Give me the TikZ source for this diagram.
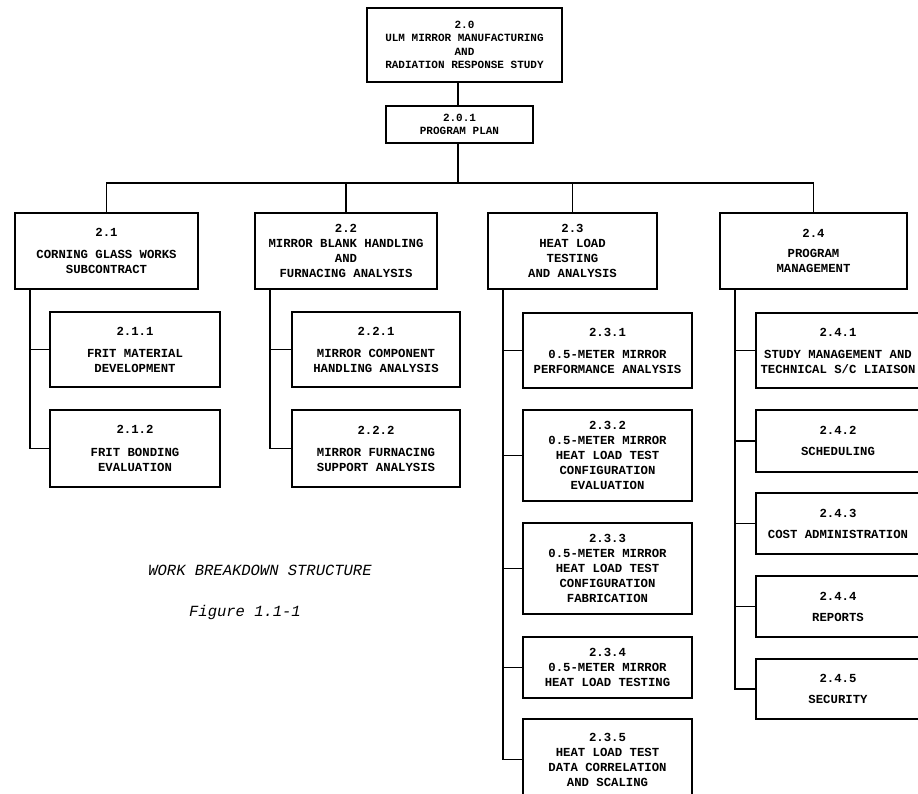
\documentclass[tikz,border=0pt]{standalone}
\usepackage{fontspec}
\setmonofont{Liberation Mono}
\usetikzlibrary{calc}

\newcommand{\boxfont}{\ttfamily\bfseries\fontsize{12.3}{15}\selectfont}
\newcommand{\topfont}{\ttfamily\bfseries\fontsize{11}{13.5}\selectfont}
\newcommand{\capfont}{\ttfamily\itshape\fontsize{15.5}{18}\selectfont}

\tikzset{
  wbs/.style={draw, line width=1.6pt, align=center, inner sep=2pt, font=\boxfont},
  link/.style={line width=1.6pt},
  caption/.style={font=\capfont, inner sep=0pt}
}

\begin{document}
\begin{tikzpicture}[x=1pt,y=-1pt]

\useasboundingbox (0,0) rectangle (918,793);
\clip (0,0) rectangle (918,793);

% top of the tree
\node[wbs, font=\topfont, minimum width=195, minimum height=74] (n20) at (464.5,45)
  {2.0\\ULM MIRROR MANUFACTURING\\AND\\RADIATION RESPONSE STUDY};
\node[wbs, font=\topfont, minimum width=147, minimum height=37] (n201) at (459.5,124.5)
  {2.0.1\\PROGRAM PLAN};

% second level
\node[wbs, minimum width=183, minimum height=76] (n21) at (106.5,251)
  {2.1\\[7pt]CORNING GLASS WORKS\\SUBCONTRACT};
\node[wbs, minimum width=182, minimum height=76] (n22) at (346,251)
  {2.2\\MIRROR BLANK HANDLING\\AND\\FURNACING ANALYSIS};
\node[wbs, minimum width=169, minimum height=76] (n23) at (572.5,251)
  {2.3\\HEAT LOAD\\TESTING\\AND ANALYSIS};
\node[wbs, minimum width=187, minimum height=76] (n24) at (813.5,251)
  {2.4\\[5pt]PROGRAM\\MANAGEMENT};

% under 2.1
\node[wbs, minimum width=170, minimum height=75] (n211) at (135,349.5)
  {2.1.1\\[7pt]FRIT MATERIAL\\DEVELOPMENT};
\node[wbs, minimum width=170, minimum height=77] (n212) at (135,448.5)
  {2.1.2\\[8pt]FRIT BONDING\\EVALUATION};

% under 2.2
\node[wbs, minimum width=168, minimum height=75] (n221) at (376,349.5)
  {2.2.1\\[7pt]MIRROR COMPONENT\\HANDLING ANALYSIS};
\node[wbs, minimum width=168, minimum height=77] (n222) at (376,448.5)
  {2.2.2\\[7pt]MIRROR FURNACING\\SUPPORT ANALYSIS};

% under 2.3
\node[wbs, minimum width=169, minimum height=75] (n231) at (607.5,350.5)
  {2.3.1\\[7pt]0.5-METER MIRROR\\PERFORMANCE ANALYSIS};
\node[wbs, minimum width=169, minimum height=91] (n232) at (607.5,455.5)
  {2.3.2\\0.5-METER MIRROR\\HEAT LOAD TEST\\CONFIGURATION\\EVALUATION};
\node[wbs, minimum width=169, minimum height=91] (n233) at (607.5,568.5)
  {2.3.3\\0.5-METER MIRROR\\HEAT LOAD TEST\\CONFIGURATION\\FABRICATION};
\node[wbs, minimum width=169, minimum height=61] (n234) at (607.5,667.5)
  {2.3.4\\0.5-METER MIRROR\\HEAT LOAD TESTING};
\node[wbs, minimum width=169, minimum height=81] (n235) at (607.5,759.5)
  {2.3.5\\HEAT LOAD TEST\\DATA CORRELATION\\AND SCALING};

% under 2.4
\node[wbs, minimum width=164, minimum height=75] (n241) at (838,350.5)
  {2.4.1\\[7pt]STUDY MANAGEMENT AND\\TECHNICAL S/C LIAISON};
\node[wbs, minimum width=164, minimum height=62] (n242) at (838,441)
  {2.4.2\\[6pt]SCHEDULING};
\node[wbs, minimum width=164, minimum height=61] (n243) at (838,523.5)
  {2.4.3\\[6pt]COST ADMINISTRATION};
\node[wbs, minimum width=164, minimum height=61] (n244) at (838,606.5)
  {2.4.4\\[6pt]REPORTS};
\node[wbs, minimum width=164, minimum height=60] (n245) at (838,689)
  {2.4.5\\[6pt]SECURITY};

% connectors
\coordinate (bus) at (458,183);
\draw[link] (n201.north -| bus) -- (n20.south -| bus);
\draw[link] (n201.south -| bus) -- (bus);
\draw[link] (n21.north) |- (bus) -| (n24.north);
\draw[link] (n22.north) -- (n22.north |- bus);
\draw[link] (n23.north) -- (n23.north |- bus);

\foreach \p in {n21,n22,n23,n24}{
  \coordinate (s\p) at ($(\p.south west)+(16,0)$);
}
\draw[link] (sn21) |- (n212.west);
\draw[link] (sn21 |- n211.west) -- (n211.west);
\draw[link] (sn22) |- (n222.west);
\draw[link] (sn22 |- n221.west) -- (n221.west);
\draw[link] (sn23) |- (n235.west);
\foreach \c in {n231,n232,n233,n234}{
  \draw[link] (sn23 |- \c.west) -- (\c.west);
}
\draw[link] (sn24) |- (n245.west);
\foreach \c in {n241,n242,n243,n244}{
  \draw[link] (sn24 |- \c.west) -- (\c.west);
}

% caption
\node[caption] (title) at (260,570) {WORK BREAKDOWN STRUCTURE};
\node[caption] (fig) at (245,612) {Figure 1.1-1};

\end{tikzpicture}
\end{document}
